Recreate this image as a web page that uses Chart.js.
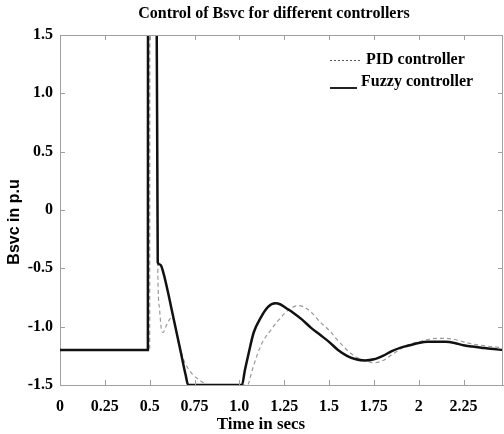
<!DOCTYPE html>
<html>
<head>
<meta charset="utf-8">
<script src="https://cdn.jsdelivr.net/npm/chart.js@4.4.1/dist/chart.umd.min.js"></script>
<style>
  html, body { margin: 0; padding: 0; background: #fff; }
  #wrap { width: 504px; height: 434px; }
</style>
</head>
<body>
<div id="wrap"><canvas id="bsvc" width="504" height="434"></canvas></div>
<script>
// time axis (secs) and Bsvc (p.u)
const fuzzyTime = [0, 0.49, 0.491, 0.535, 0.545, 0.56, 0.575, 0.6, 0.625, 0.65, 0.675, 0.7, 0.715,
  1.015, 1.03, 1.05, 1.08, 1.12, 1.16, 1.2, 1.23, 1.26, 1.3, 1.35, 1.4, 1.45, 1.5, 1.55, 1.6,
  1.65, 1.7, 1.75, 1.8, 1.85, 1.9, 1.95, 2.0, 2.05, 2.1, 2.15, 2.2, 2.25, 2.3, 2.35, 2.4, 2.47];
const fuzzyBsvc = [-1.2, -1.2, 3, 3, -0.45, -0.47, -0.53, -0.69, -0.87, -1.05, -1.23, -1.41, -1.5,
  -1.5, -1.38, -1.24, -1.05, -0.92, -0.83, -0.8, -0.81, -0.84, -0.88, -0.94, -1.01, -1.07, -1.13, -1.2, -1.25,
  -1.28, -1.29, -1.28, -1.25, -1.21, -1.18, -1.16, -1.14, -1.13, -1.13, -1.13, -1.14, -1.16, -1.17, -1.18, -1.19, -1.2];

const pidTime = [0, 0.5, 0.501, 0.532, 0.545, 0.555, 0.565, 0.575, 0.59, 0.61, 0.625, 0.64, 0.66, 0.68,
  0.7, 0.72, 0.74, 0.77, 0.8, 0.83, 1.045, 1.07, 1.1, 1.13, 1.17, 1.21, 1.25, 1.29, 1.33, 1.37, 1.41,
  1.45, 1.5, 1.55, 1.6, 1.65, 1.7, 1.75, 1.8, 1.85, 1.9, 1.95, 2.0, 2.05, 2.1, 2.15, 2.2, 2.25, 2.3,
  2.35, 2.4, 2.47];
const pidBsvc = [-1.2, -1.2, 3, 3, -0.5, -0.85, -1.02, -1.05, -1.0, -0.94, -0.92, -0.98, -1.12, -1.24,
  -1.32, -1.37, -1.41, -1.45, -1.48, -1.5, -1.5, -1.38, -1.24, -1.13, -1.04, -0.96, -0.89, -0.84, -0.82, -0.84, -0.89,
  -0.96, -1.03, -1.12, -1.2, -1.26, -1.29, -1.31, -1.29, -1.24, -1.19, -1.15, -1.13, -1.11, -1.1, -1.1, -1.11, -1.13, -1.15,
  -1.16, -1.17, -1.18];

const xTickLabels = ['0', '0.25', '0.5', '0.75', '1.0', '1.25', '1.5', '1.75', '2', '2.25'];
const yTickLabels = ['-1.5', '-1.0', '-0.5', '0', '0.5', '1.0', '1.5'];

const chartTitle = 'Control of Bsvc for different controllers';
const xTitle = 'Time in secs';
const yTitle = 'Bsvc in p.u';

const serif = 'Liberation Serif';
const frameColor = '#a0a0a0';

function pairs(xs, ys) {
  return xs.map(function(x, i) { return {x: x, y: ys[i]}; });
}

// box frame with inward ticks, like the original plot
const framePlugin = {
  id: 'frame',
  afterDraw(chart) {
    const ctx = chart.ctx;
    const a = chart.chartArea;
    const xs = chart.scales.x, ys = chart.scales.y;
    ctx.save();
    ctx.strokeStyle = frameColor;
    ctx.lineWidth = 1;
    ctx.beginPath();
    ctx.moveTo(a.left, a.top + 0.5); ctx.lineTo(a.right, a.top + 0.5);
    ctx.moveTo(a.right - 0.5, a.top); ctx.lineTo(a.right - 0.5, a.bottom);
    xs.ticks.forEach(function(t) {
      const px = Math.round(xs.getPixelForValue(t.value)) + 0.5;
      ctx.moveTo(px, a.bottom); ctx.lineTo(px, a.bottom - 5);
      ctx.moveTo(px, a.top); ctx.lineTo(px, a.top + 5);
    });
    ys.ticks.forEach(function(t) {
      const py = Math.round(ys.getPixelForValue(t.value)) + 0.5;
      ctx.moveTo(a.left, py); ctx.lineTo(a.left + 5, py);
      ctx.moveTo(a.right, py); ctx.lineTo(a.right - 5, py);
    });
    ctx.stroke();
    ctx.restore();
  }
};

// title, axis titles and the legend sit where the original has them
const textPlugin = {
  id: 'texts',
  afterDraw(chart) {
    const ctx = chart.ctx;
    const ds = chart.data.datasets;
    ctx.save();
    ctx.fillStyle = '#000';
    ctx.textBaseline = 'middle';
    ctx.textAlign = 'center';
    ctx.font = 'bold 16px "' + serif + '"';
    ctx.fillText(chartTitle, 274, 14);
    ctx.font = 'bold 17px "' + serif + '"';
    ctx.fillText(xTitle, 261, 425);
    ctx.save();
    ctx.translate(15, 222);
    ctx.rotate(-Math.PI / 2);
    ctx.font = 'bold 16px "Liberation Sans"';
    ctx.fillText(yTitle, 0, 0);
    ctx.restore();

    ctx.textAlign = 'left';
    ctx.font = 'bold 16px "' + serif + '"';
    // PID
    ctx.strokeStyle = '#555';
    ctx.lineWidth = 1;
    ctx.setLineDash([2, 2]);
    ctx.beginPath(); ctx.moveTo(330, 60.5); ctx.lineTo(361, 60.5); ctx.stroke();
    ctx.fillText(ds[1].label, 366, 60);
    // Fuzzy
    ctx.setLineDash([]);
    ctx.strokeStyle = '#222';
    ctx.lineWidth = 2;
    ctx.beginPath(); ctx.moveTo(330, 88); ctx.lineTo(357, 88); ctx.stroke();
    ctx.fillText(ds[0].label, 361, 82);
    ctx.restore();
  }
};

const bsvc = document.getElementById('bsvc');

if(bsvc){
    new Chart(bsvc, {
      type: 'line',
      data: {
        datasets: [
          {
            label: 'Fuzzy controller',
            data: pairs(fuzzyTime, fuzzyBsvc),
            borderColor: '#111',
            borderWidth: 2.5,
            pointRadius: 0,
            cubicInterpolationMode: 'monotone',
          },
          {
            label: 'PID controller',
            data: pairs(pidTime, pidBsvc),
            borderColor: '#9a9a9a',
            borderWidth: 1.2,
            borderDash: [4, 3],
            pointRadius: 0,
            cubicInterpolationMode: 'monotone',
          },
        ]
      },
      options: {
        responsive: false,
        animation: false,
        layout: {
          padding: {left: 0, right: 1, top: 35, bottom: 0},
        },
        scales:{
          x:{
            type: 'linear',
            min: 0,
            max: 2.47,
            grid: { display: false, drawTicks: false },
            border: { color: frameColor },
            ticks:{
              stepSize: 0.25,
              includeBounds: false,
              maxRotation: 0,
              autoSkip: false,
              padding: 12,
              color: '#000',
              font: { family: serif, size: 16, weight: 'bold' },
              callback: function(v, i) { return xTickLabels[i]; },
            },
            afterFit: function(s) { s.height = 49; },
          },
          y:{
            min: -1.5,
            max: 1.5,
            grid: { display: false, drawTicks: false },
            border: { color: frameColor },
            ticks:{
              stepSize: 0.5,
              padding: 7,
              color: '#000',
              font: { family: serif, size: 16, weight: 'bold' },
              callback: function(v, i) { return yTickLabels[i]; },
            },
            afterFit: function(s) { s.width = 60; },
          },
        },
        plugins: {
          legend: { display: false },
          tooltip: { enabled: false },
        },
      },
      plugins: [framePlugin, textPlugin],
    });
}
</script>
</body>
</html>
